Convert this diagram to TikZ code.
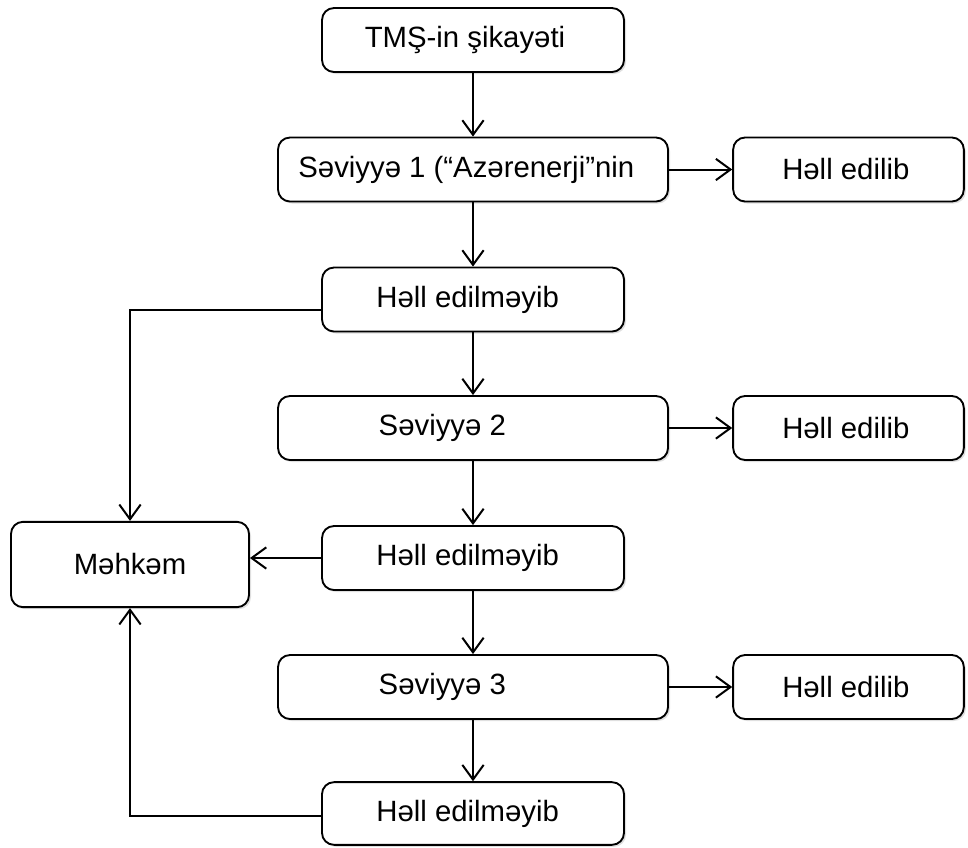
\documentclass[tikz,border=0pt]{standalone}
\usepackage{fontspec}
\setmainfont{Liberation Sans}
\usetikzlibrary{arrows.meta,shadows}

\tikzset{
    box/.style={draw, black, line width=1.4pt, rounded corners=9pt, fill=white,
        minimum height=48pt, inner sep=0pt, align=center,
        font=\fontsize{22}{26}\selectfont,
        drop shadow={shadow xshift=1.5pt, shadow yshift=-1.5pt, fill=black!25}},
    mainbox/.style={box, minimum width=226.5pt},
    levelbox/.style={box, minimum width=292.5pt},
    okbox/.style={box, minimum width=173pt},
    arr/.style={-{Straight Barb[length=11pt,width=16pt]}, line width=1.5pt, black}
}

\begin{document}
\begin{tikzpicture}[x=0.75pt, y=-0.75pt]
        \useasboundingbox (0,0) rectangle (968,847);
        % main column
        \node[mainbox] (grv) at (473,40) {TMŞ-in şikayəti\hspace{12pt}};
        \node[levelbox] (lv1) at (473,169.5) {Səviyyə 1 (“Azərenerji”nin\hspace{10pt}};
        \node[mainbox] (nr1) at (473,299.5) {Həll edilməyib\hspace{8pt}};
        \node[levelbox] (lv2) at (473,428) {Səviyyə 2\hspace{46pt}};
        \node[mainbox] (nr2) at (473,558) {Həll edilməyib\hspace{8pt}};
        \node[levelbox] (lv3) at (473,687) {Səviyyə 3\hspace{46pt}};
        \node[mainbox, minimum height=47pt] (nr3) at (473,813.5) {Həll edilməyib\hspace{8pt}};
        % resolved column
        \node[okbox] (res1) at (848.5,169.5) {Həll edilib\hspace{4pt}};
        \node[okbox] (res2) at (848.5,428) {Həll edilib\hspace{4pt}};
        \node[okbox] (res3) at (848.5,687) {Həll edilib\hspace{4pt}};
        % court
        \node[box, minimum width=178.5pt, minimum height=64pt] (court) at (130,564.5) {Məhkəm};
        % arrows
        \draw[arr] (grv) -- (lv1);
        \draw[arr] (lv1) -- (nr1);
        \draw[arr] (nr1) -- (lv2);
        \draw[arr] (lv2) -- (nr2);
        \draw[arr] (nr2) -- (lv3);
        \draw[arr] (lv3) -- (nr3);
        \draw[arr] (lv1) -- (res1);
        \draw[arr] (lv2) -- (res2);
        \draw[arr] (lv3) -- (res3);
        \draw[arr] ([yshift=-8pt]nr1.west) -| (court.north);
        \draw[arr] (nr2.west) -- (court.east |- nr2.west);
        \draw[arr] ([yshift=-2pt]nr3.west) -| (court.south);
    \end{tikzpicture}
\end{document}
